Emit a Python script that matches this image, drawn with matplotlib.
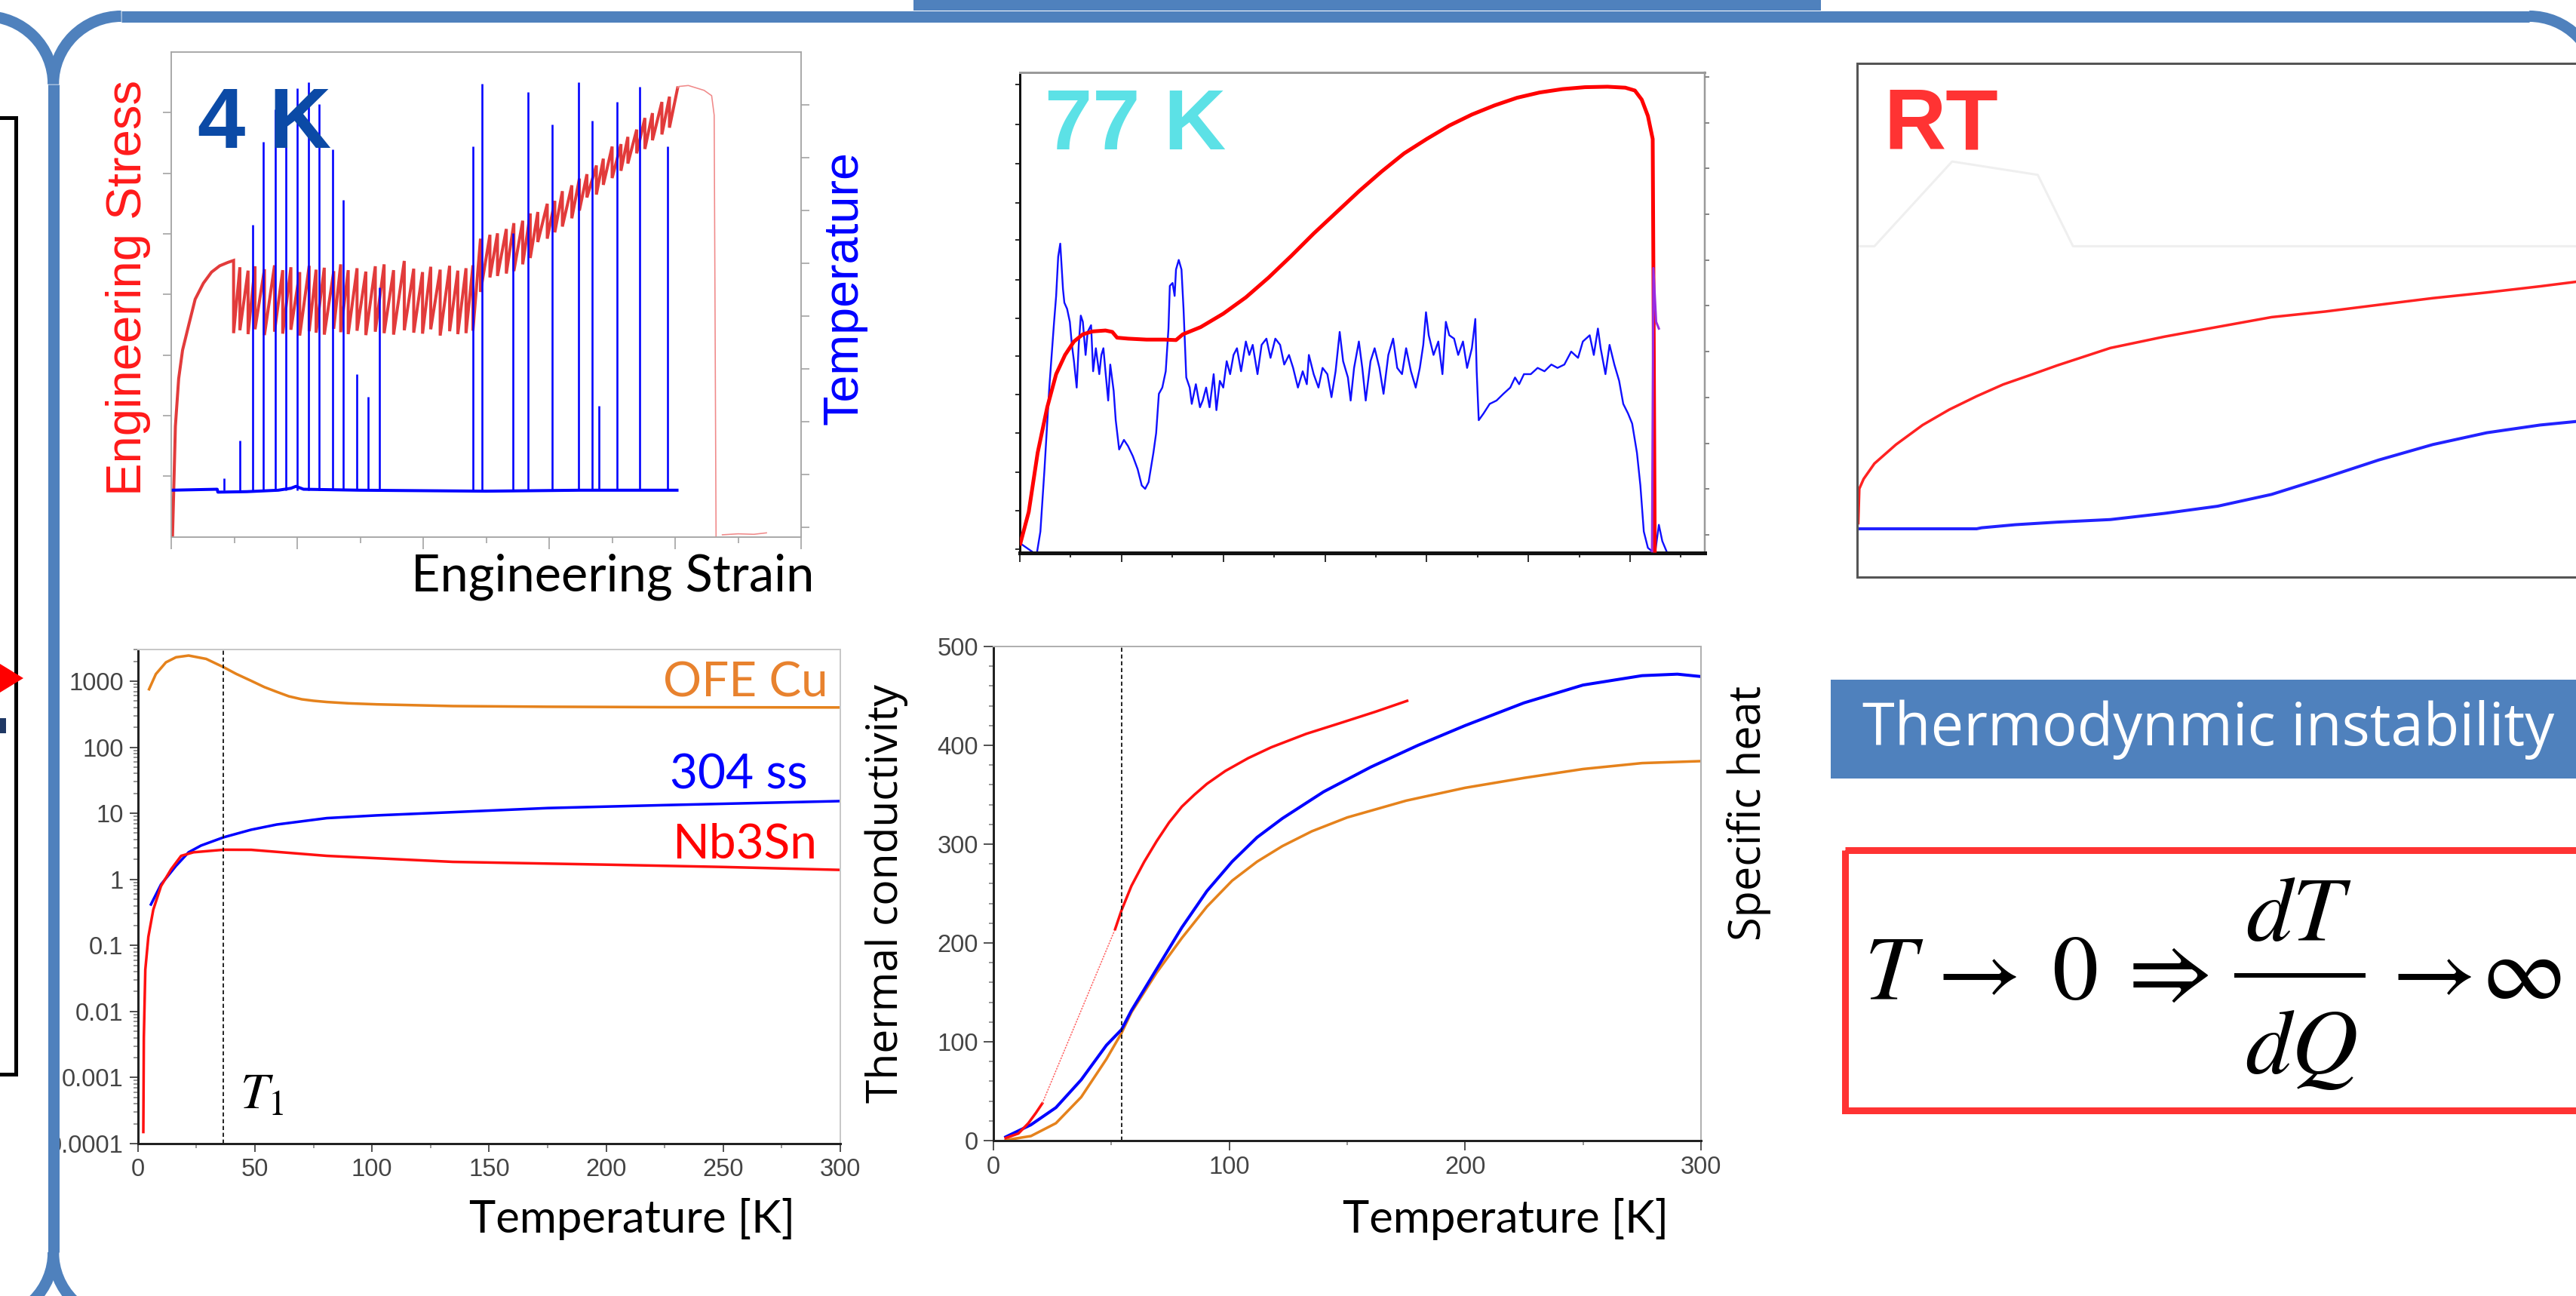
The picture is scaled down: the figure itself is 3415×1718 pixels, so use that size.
import numpy as np
import matplotlib
matplotlib.use("Agg")
import matplotlib.pyplot as plt
from matplotlib.patches import Rectangle, Polygon, Arc
from matplotlib.ticker import LogLocator, NullFormatter, MultipleLocator
from matplotlib.font_manager import FontProperties

W, H = 3416, 1718
PT = 0.72  # points per pixel at dpi=100

# ======================= DATA =======================
# ---- 4 K tensile test (strain / stress / temperature in % of axis range)
stress_init_strain = [0.2, 0.4, 0.66, 1.18, 1.8, 2.8, 3.8, 5.1, 6.4, 7.7, 9.0, 9.9]
stress_init = [0.0, 9.7, 22.8, 32.6, 38.5, 43.8, 49.0, 52.3, 54.6, 55.9, 56.6, 57.0]
flat_drop = [10.9, 12.2, 13.3, 14.8, 16.4, 17.7, 19.0, 20.4, 21.9, 23.0, 24.3, 25.8, 26.9, 28.1,
             29.5, 30.9, 32.4, 33.8, 35.3, 37.0, 38.5, 39.9, 41.2, 42.7, 44.2, 45.5, 46.8, 47.9]
flat_top = [55.6, 54.9, 55.8, 55.2, 56.0, 55.0, 55.6, 54.6, 55.9, 55.1, 55.5, 54.8, 56.2, 55.0,
            55.4, 54.7, 55.8, 56.2, 55.0, 56.9, 55.3, 54.6, 55.7, 55.1, 55.9, 54.9, 55.4, 56.0]
flat_bot = [42.0, 42.6, 41.8, 42.8, 41.6, 42.3, 41.9, 42.7, 41.5, 42.4, 42.1, 41.7, 42.9, 42.2,
            41.8, 42.5, 41.6, 42.3, 42.0, 41.7, 42.6, 42.1, 41.9, 42.8, 41.5, 42.4, 41.8, 42.0]
rise_drop = [49.1, 50.6, 51.8, 53.2, 54.4, 55.8, 57.0, 58.2, 59.7, 60.9, 62.1, 63.6, 64.8,
             66.0, 67.5, 68.6, 70.0, 71.4, 72.5, 73.9, 75.2, 76.4, 77.9, 79.1, 80.4]
rise_top = [61.5, 62.3, 62.6, 63.5, 64.7, 65.2, 66.7, 67.0, 68.7, 69.3, 71.3, 72.5, 73.9,
            74.8, 76.6, 78.0, 80.5, 81.0, 82.5, 84.0, 86.4, 87.4, 89.7, 90.8, 92.6]
rise_bot = [42.5, 50.5, 53.5, 53.8, 54.3, 54.8, 56.2, 57.5, 60.8, 61.5, 62.8, 64.0, 65.7,
            67.3, 70.0, 70.6, 72.6, 74.0, 75.5, 77.0, 79.1, 80.0, 81.8, 83.0, 84.4]
post_strain = [80.4, 80.6, 82.1, 84.6, 85.8, 86.2, 86.5]
post_stress = [92.6, 92.9, 93.1, 92.1, 91.0, 87.0, 0.0]
tail_strain = [87.5, 90.0, 92.5, 94.5]
tail_stress = [0.4, 0.6, 0.5, 0.8]
temp_base_strain = [0, 7.3, 7.4, 12, 17, 19, 19.8, 21, 30, 50, 65, 80.3]
temp_base = [9.6, 9.8, 9.2, 9.3, 9.6, 10.0, 10.4, 9.8, 9.6, 9.4, 9.6, 9.6]
spike_strain = [8.36, 10.85, 12.96, 14.67, 16.5, 18.2, 20.05, 21.76, 23.47, 25.63,
                27.28, 29.5, 31.22, 33.0, 47.9, 49.34, 54.2, 56.7, 60.45, 64.7,
                66.8, 67.9, 70.8, 74.37, 78.8]
spike_temp = [12.0, 19.8, 64.4, 81.5, 88.2, 89.4, 92.5, 93.8, 89.3, 79.9,
              69.5, 33.6, 28.9, 51.5, 80.6, 93.4, 62.6, 91.7, 85.1, 93.7,
              85.9, 27.0, 89.8, 92.9, 80.6]

# ---- 77 K test (% of axis range)
red77_x = [0, 1.3, 2.6, 4.0, 5.3, 6.6, 7.9, 9.2, 10.6, 12.5,
           13.5, 14.2, 15.8, 18.5, 21.1, 22.8, 23.8, 26.4, 29.7, 33.0,
           36.3, 39.6, 42.9, 46.2, 49.5, 52.8, 56.1, 59.4, 62.7, 66.0,
           69.3, 72.6, 75.9, 79.2, 82.5, 85.8, 88.4, 89.8, 90.8, 91.7,
           92.4, 92.5, 92.7]
red77_y = [1.5, 8.5, 20.8, 30.3, 37.2, 41.2, 44.0, 45.5, 46.1, 46.3,
           46.0, 44.8, 44.6, 44.4, 44.4, 44.3, 45.5, 47.0, 49.8, 53.2,
           57.3, 61.8, 66.5, 70.9, 75.3, 79.4, 83.2, 86.2, 89.0, 91.3,
           93.2, 94.8, 95.9, 96.6, 97.0, 97.1, 96.9, 96.3, 94.4, 91.0,
           86.2, 59.6, 0]
blue77_x = [0, 1.0, 2.0, 2.5, 3.0, 3.6, 4.3, 5.0, 5.3, 5.6,
            5.9, 6.3, 6.5, 6.9, 7.3, 7.6, 7.9, 8.3, 8.6, 8.9,
            9.2, 9.6, 9.9, 10.4, 10.7, 11.1, 11.6, 11.9, 12.2, 12.5,
            12.9, 13.2, 13.7, 14.0, 14.5, 15.2, 15.8, 16.5, 17.2, 17.8,
            18.3, 18.8, 19.5, 19.9, 20.3, 20.8, 21.3, 21.7, 21.9, 22.3,
            22.6, 22.8, 23.2, 23.6, 23.9, 24.3, 24.8, 25.1, 25.7, 26.3,
            26.7, 27.2, 27.7, 28.3, 28.7, 29.2, 29.7, 30.2, 30.7, 31.2,
            31.7, 32.3, 33.0, 33.5, 34.0, 34.7, 35.3, 36.0, 36.6, 37.3,
            38.0, 38.6, 39.3, 39.9, 40.6, 41.3, 41.9, 42.2, 42.9, 43.6,
            44.2, 44.9, 45.5, 46.1, 46.7, 47.2, 47.9, 48.3, 48.8, 49.5,
            50.0, 50.5, 51.2, 51.8, 52.5, 53.1, 53.8, 54.5, 55.1, 55.8,
            56.4, 57.1, 57.8, 58.4, 58.9, 59.3, 59.7, 60.4, 61.1, 61.7,
            62.2, 62.7, 63.4, 64.0, 64.7, 65.3, 66.0, 66.5, 66.7, 67.0,
            67.7, 68.6, 69.6, 70.6, 71.6, 72.3, 72.9, 73.6, 74.6, 75.6,
            76.6, 77.6, 78.5, 79.5, 80.5, 81.5, 82.2, 83.2, 83.8, 84.4,
            84.8, 85.5, 86.1, 86.8, 87.5, 88.1, 88.8, 89.4, 90.1, 90.6,
            91.1, 91.7, 92.3]
blue77_y = [2.0, 1.0, 0.0, 0.0, 4.4, 17.4, 34.4, 48.1, 53.5, 61.7,
            64.4, 54.9, 52.1, 50.8, 48.1, 43.3, 39.9, 34.4, 43.3, 49.4,
            48.1, 41.2, 46.0, 47.4, 37.8, 42.6, 37.2, 41.2, 42.6, 37.8,
            31.7, 39.2, 33.7, 27.6, 21.5, 23.5, 22.2, 20.1, 17.4, 14.0,
            13.3, 14.7, 20.8, 24.9, 33.1, 34.4, 37.8, 46.7, 55.6, 56.2,
            53.5, 59.0, 61.0, 59.0, 50.8, 36.5, 34.4, 31.0, 35.1, 30.3,
            31.7, 34.4, 30.3, 37.2, 29.7, 35.8, 34.4, 39.9, 37.2, 41.2,
            42.6, 37.8, 44.0, 41.2, 43.3, 37.2, 43.3, 44.6, 40.6, 44.6,
            43.3, 39.2, 41.2, 38.5, 34.4, 37.8, 35.1, 41.2, 37.2, 34.4,
            38.5, 37.2, 32.4, 37.8, 46.0, 39.9, 36.5, 31.7, 38.5, 44.0,
            38.5, 31.7, 39.9, 42.6, 38.5, 33.1, 41.2, 44.6, 38.5, 37.2,
            42.6, 37.8, 34.4, 38.5, 43.3, 50.1, 45.3, 41.2, 44.0, 37.2,
            48.1, 45.3, 44.6, 41.2, 44.0, 38.5, 42.6, 48.7, 37.8, 27.6,
            29.0, 31.0, 31.7, 33.1, 34.4, 36.5, 35.1, 37.2, 37.2, 38.5,
            37.8, 39.2, 38.5, 39.2, 41.9, 40.6, 44.0, 45.3, 41.2, 46.7,
            42.6, 37.2, 43.3, 39.2, 35.8, 31.0, 29.0, 26.9, 20.8, 14.0,
            4.4, 1.0, 0.3]
purple77_x = [92.3, 92.5, 92.9, 93.3]
purple77_y = [0.3, 59.3, 48.1, 46.7]
bluetail77_x = [92.8, 93.3, 93.8, 94.5]
bluetail77_y = [0.5, 5.8, 2.4, 0.0]

# ---- room temperature test (% of axis range)
rt_red_x = [0.15, 0.3, 0.9, 2.4, 5.4, 9.1, 12.8, 16.6, 20.3, 24.0, 27.8, 35.2, 42.7,
            50.1, 57.6, 65.1, 72.5, 80.0, 87.5, 94.9, 100]
rt_red_y = [10.5, 17.2, 19.1, 22.1, 25.8, 29.6, 32.6, 35.2, 37.5, 39.3, 41.2, 44.6, 46.8,
            48.7, 50.6, 51.7, 53.0, 54.3, 55.4, 56.6, 57.5]
rt_blue_x = [0.15, 16.6, 17.3, 22.0, 27.8, 35.2, 42.7, 50.1, 57.6, 65.1, 72.5, 80.0, 87.5,
             94.9, 100]
rt_blue_y = [9.4, 9.4, 9.6, 10.2, 10.7, 11.2, 12.4, 13.8, 16.1, 19.4, 22.8, 25.8, 28.1,
             29.6, 30.3]
rt_faint_x = [0.15, 2.4, 13.2, 25.1, 30.0, 100]
rt_faint_y = [64.4, 64.4, 80.9, 78.3, 64.4, 64.4]

# ---- thermal conductivity (log plot) vs temperature [K]
cu_T = [4.8, 7.7, 12.0, 16.3, 21.7, 29.2, 36.7, 42.0, 48.4, 54.0, 59.3, 64.5, 70.0, 75.0,
        80.7, 90.0, 102, 134.5, 175, 225, 300]
cu_k = [755, 1280, 1928, 2301, 2443, 2173, 1623, 1290, 1013, 815, 690, 590, 532, 505,
        484, 462, 446, 420, 410, 404, 400]
ss_T = [5.6, 9.9, 16.3, 21.7, 27, 36.7, 48.4, 59.3, 80.7, 102, 134.5, 175, 225, 300]
ss_k = [0.417, 0.836, 1.6, 2.57, 3.25, 4.34, 5.64, 6.76, 8.45, 9.3, 10.4, 12.0, 13.3, 15.3]
nb_T = [2.35, 2.57, 3.2, 4.5, 6.6, 9.9, 14.2, 18.5, 23.8, 36.7, 48.4, 80.7, 134.5, 200, 250, 300]
nb_k = [1.5e-4, 0.004, 0.043, 0.135, 0.347, 0.79, 1.42, 2.27, 2.57, 2.81, 2.8, 2.27, 1.84,
        1.67, 1.54, 1.39]
T1_line = 36.5
log_ticks = [1e-4, 1e-3, 1e-2, 1e-1, 1, 10, 100, 1000]
log_ticklabels = ["0.0001", "0.001", "0.01", "0.1", "1", "10", "100", "1000"]
temp_ticks_a = [0, 50, 100, 150, 200, 250, 300]
material_labels = ["OFE Cu", "304 ss", "Nb3Sn"]

# ---- specific heat (linear plot) vs temperature [K]
nbc_T1 = [5.2, 10.6, 14.8, 18.0, 20.7]
nbc_v1 = [2.6, 7.2, 17.6, 28.0, 37.6]
nbc_Tdot = [20.7, 51.6]
nbc_vdot = [37.6, 214]
nbc_T2 = [51.6, 54.3, 58.5, 63.9, 69.2, 74.5, 79.9, 85.2, 90.5, 98.3, 108.0, 117.8, 132.6,
          147.3, 162.0, 175.4]
nbc_v2 = [214, 233, 257.7, 282, 303, 322, 338, 350, 361, 374, 387, 398, 411.6,
          422.7, 434, 445]
ssc_T = [5.2, 15.9, 26.5, 37.2, 47.9, 54.3, 58.5, 69.2, 79.9, 90.5, 101.2, 111.8, 122.5,
         140, 160, 180, 200, 225, 250, 275, 290, 300]
ssc_v = [3.7, 16, 33.4, 61.5, 96.5, 112.3, 131.6, 173.7, 215.7, 252.5, 282.3, 306.9, 326,
         353, 378, 400, 420, 443, 461, 470.5, 472, 469.6]
cuc_T = [5.2, 15.9, 26.5, 37.2, 47.9, 54.3, 58.5, 69.2, 79.9, 90.5, 101.2, 111.8, 122.5,
         135, 150, 175, 200, 225, 250, 275, 300]
cuc_v = [0.5, 4.6, 17.6, 44, 82.5, 108.8, 129.8, 170, 205, 236.7, 263, 282.3, 298,
         313, 327, 344, 357, 367, 376, 382, 384]
T2_line = 54.3
cp_yticks = [0, 100, 200, 300, 400, 500]
cp_xticks = [0, 100, 200, 300]

# ======================= FIGURE =======================
plt.rcParams["font.family"] = ["Liberation Sans", "DejaVu Sans"]
fig = plt.figure(figsize=(W / 100, H / 100), dpi=100)
fig.patch.set_facecolor("white")


def add_ax(x0, y0, x1, y1, **kw):
    return fig.add_axes([x0 / W, 1 - y1 / H, (x1 - x0) / W, (y1 - y0) / H], **kw)


def style_ticklabels(ax):
    for lab in ax.get_xticklabels() + ax.get_yticklabels():
        lab.set_fontproperties(FontProperties(family="Liberation Sans", size=23.5))
        lab.set_color("#444444")


# ---------------- 4 K panel ----------------
ax = add_ax(227, 69, 1062, 711.5)
ax.set_xlim(0, 100)
ax.set_ylim(0, 100)
for s in ax.spines.values():
    s.set_color("#a6a6a6")
    s.set_linewidth(1.5 * PT)
ax.set_xticks([0, 20, 40, 60, 80, 100])
ax.set_xticks([10, 30, 50, 70, 90], minor=True)
ax.set_yticks([12.5, 25, 37.5, 50, 62.5, 75, 87.5])
ax.tick_params(axis="x", which="major", length=16 * PT, width=1.5 * PT, color="#999999",
               labelbottom=False)
ax.tick_params(axis="x", which="minor", length=8 * PT, width=1.5 * PT, color="#999999")
ax.tick_params(axis="y", length=11 * PT, width=1.5 * PT, color="#999999", labelleft=False)
sx = list(stress_init_strain)
sy = list(stress_init)
prev = stress_init_strain[-1]
for d, t, b in zip(flat_drop + rise_drop, flat_top + rise_top, flat_bot + rise_bot):
    sx += [prev, d]
    sy += [b, t]
    prev = d
ax.plot(sx, sy, color="#e23b3b", lw=4 * PT, solid_joinstyle="miter")
ax.plot(post_strain, post_stress, color="#f08a8a", lw=1.6 * PT)
ax.plot(tail_strain, tail_stress, color="#f08a8a", lw=1.6 * PT)
ax2 = ax.twinx()
ax2.set_ylim(0, 100)
for s in ax2.spines.values():
    s.set_color("#a6a6a6")
    s.set_linewidth(1.5 * PT)
ax2.set_yticks([1.9, 12.8, 23.7, 34.6, 45.5, 56.4, 67.3, 78.2, 89.1])
ax2.tick_params(axis="y", length=11 * PT, width=1.5 * PT, color="#999999", labelright=False)
ax2.plot(temp_base_strain, temp_base, color="#0000ff", lw=4 * PT)
ax2.vlines(spike_strain, 9.6, spike_temp, color="#0000ff", lw=2.6 * PT)

# ---------------- 77 K panel ----------------
ax = add_ax(1352, 96.5, 2260, 732.6)
ax.set_xlim(0, 100)
ax.set_ylim(0, 100)
ax.spines["left"].set_color("#111111")
ax.spines["left"].set_linewidth(3 * PT)
ax.spines["bottom"].set_color("#111111")
ax.spines["bottom"].set_linewidth(5 * PT)
ax.spines["top"].set_color("#9a9a9a")
ax.spines["top"].set_linewidth(3 * PT)
ax.spines["right"].set_color("#9a9a9a")
ax.spines["right"].set_linewidth(2.5 * PT)
ax.set_yticks([0.7, 8.8, 16.8, 24.9, 32.9, 40.9, 48.9, 56.9, 65.1, 72.9, 81.1, 89.3, 97.5])
ax.set_xticks([0, 14.85, 29.7, 44.55, 59.4, 74.25, 89.1])
ax.set_xticks([7.43, 22.3, 37.1, 52.0, 66.8, 81.7, 96.5], minor=True)
ax.tick_params(axis="y", length=6 * PT, width=2 * PT, color="#333333", labelleft=False)
ax.tick_params(axis="x", which="major", length=12 * PT, width=2 * PT, color="#333333",
               labelbottom=False)
ax.tick_params(axis="x", which="minor", length=6 * PT, width=2 * PT, color="#333333")
axr = ax.twinx()
axr.set_ylim(0, 100)
for s in axr.spines.values():
    s.set_visible(False)
axr.set_yticks([3.7, 13.3, 22.8, 32.4, 41.9, 51.5, 61.0, 70.6, 80.1, 89.6, 99.2])
axr.tick_params(axis="y", length=6 * PT, width=2 * PT, color="#888888", labelright=False)
ax.plot(blue77_x, blue77_y, color="#1010ff", lw=2.4 * PT, zorder=2)
ax.plot(bluetail77_x, bluetail77_y, color="#1010ff", lw=2.4 * PT, zorder=2)
ax.plot(red77_x, red77_y, color="#ff0000", lw=5 * PT, zorder=3, solid_capstyle="butt")
ax.plot(purple77_x, purple77_y, color="#9a2be0", lw=3 * PT, zorder=4)

# ---------------- RT panel ----------------
ax = add_ax(2462, 84, 3416, 765)
ax.set_xlim(0, 100)
ax.set_ylim(0, 100)
for k, s in ax.spines.items():
    s.set_color("#555555")
    s.set_linewidth(3 * PT)
ax.spines["right"].set_visible(False)
ax.set_xticks([])
ax.set_yticks([])
ax.plot(rt_faint_x, rt_faint_y, color="#efefef", lw=3 * PT)
ax.plot(rt_red_x, rt_red_y, color="#ff2222", lw=3.5 * PT)
ax.plot(rt_blue_x, rt_blue_y, color="#2222ff", lw=4 * PT)

# ---------------- thermal conductivity (log) ----------------
ax = add_ax(182.7, 861, 1114, 1516)
ax.set_yscale("log")
ax.set_xlim(0, 300)
ax.set_ylim(1e-4, 3015)
ax.spines["left"].set_color("#222222")
ax.spines["left"].set_linewidth(3 * PT)
ax.spines["bottom"].set_color("#222222")
ax.spines["bottom"].set_linewidth(3 * PT)
ax.spines["top"].set_color("#c8c8c8")
ax.spines["top"].set_linewidth(2 * PT)
ax.spines["right"].set_color("#c8c8c8")
ax.spines["right"].set_linewidth(2 * PT)
ax.set_yticks(log_ticks)
ax.set_yticklabels(log_ticklabels)
ax.yaxis.set_minor_locator(LogLocator(base=10, subs=np.arange(2, 10), numticks=30))
ax.yaxis.set_minor_formatter(NullFormatter())
ax.set_xticks(temp_ticks_a)
ax.set_xticklabels([str(t) for t in temp_ticks_a])
ax.xaxis.set_minor_locator(MultipleLocator(25))
ax.tick_params(axis="both", which="major", length=11 * PT, width=2 * PT, color="#555555",
               pad=8 * PT)
ax.tick_params(axis="both", which="minor", length=6 * PT, width=1.5 * PT, color="#777777")
style_ticklabels(ax)
ax.plot(cu_T, cu_k, color="#e5821c", lw=3.5 * PT)
ax.plot(ss_T, ss_k, color="#0000ff", lw=3.5 * PT)
ax.plot(nb_T, nb_k, color="#ff1010", lw=3.5 * PT)
ax.axvline(T1_line, color="#111111", lw=1.8 * PT, ls=(0, (3, 2)))

# ---------------- specific heat (linear) ----------------
ax = add_ax(1317, 857, 2255, 1512)
ax.set_xlim(0, 300)
ax.set_ylim(0, 500)
ax.spines["left"].set_color("#222222")
ax.spines["left"].set_linewidth(3 * PT)
ax.spines["bottom"].set_color("#222222")
ax.spines["bottom"].set_linewidth(3 * PT)
ax.spines["top"].set_color("#b0b0b0")
ax.spines["top"].set_linewidth(2 * PT)
ax.spines["right"].set_color("#b0b0b0")
ax.spines["right"].set_linewidth(2 * PT)
ax.set_yticks(cp_yticks)
ax.set_yticklabels([str(v) for v in cp_yticks])
ax.yaxis.set_minor_locator(MultipleLocator(20))
ax.set_xticks(cp_xticks)
ax.set_xticklabels([str(v) for v in cp_xticks])
ax.xaxis.set_minor_locator(MultipleLocator(50))
ax.tick_params(axis="both", which="major", length=13 * PT, width=2 * PT, color="#555555",
               pad=7 * PT)
ax.tick_params(axis="both", which="minor", length=6 * PT, width=1.5 * PT, color="#777777")
style_ticklabels(ax)
ax.plot(cuc_T, cuc_v, color="#e5821c", lw=3.5 * PT)
ax.plot(ssc_T, ssc_v, color="#0000ff", lw=4 * PT)
ax.plot(nbc_T1, nbc_v1, color="#ff1010", lw=3.5 * PT)
ax.plot(nbc_Tdot, nbc_vdot, color="#ff6060", lw=1.5 * PT, ls=(0, (1.5, 1)))
ax.plot(nbc_T2, nbc_v2, color="#ff1010", lw=3.5 * PT)
ax.axvline(T2_line, color="#111111", lw=1.8 * PT, ls=(0, (3, 2)))

# ---------------- overlay: frames, texts ----------------
ov = fig.add_axes([0, 0, 1, 1], zorder=10)
ov.set_xlim(0, W)
ov.set_ylim(H, 0)
ov.axis("off")
ov.patch.set_alpha(0)

FRAME = "#4f81bd"
FLW = 15 * PT
R = 90
# main frame (top-left, left side, bottom-left, top-right)
ov.plot([160.7, 3353], [21.5, 21.5], color=FRAME, lw=FLW, solid_capstyle="butt")
ov.plot([70.7, 70.7], [111.5, 1660], color=FRAME, lw=FLW, solid_capstyle="butt")
ov.add_patch(Arc((160.7, 111.5), 2 * R, 2 * R, theta1=180, theta2=270, color=FRAME, lw=FLW))
ov.add_patch(Arc((160.7, 1660), 2 * R, 2 * R, theta1=90, theta2=180, color=FRAME, lw=FLW))
ov.add_patch(Arc((3353, 111.5), 2 * R, 2 * R, theta1=270, theta2=360, color=FRAME, lw=FLW))
# left neighbouring frame (its right side shares the vertical line)
ov.add_patch(Arc((-19.3, 111.5), 2 * R, 2 * R, theta1=270, theta2=360, color=FRAME, lw=FLW))
ov.add_patch(Arc((-19.3, 1660), 2 * R, 2 * R, theta1=0, theta2=90, color=FRAME, lw=FLW))
# header tab
ov.add_patch(Rectangle((1211, -20), 2414 - 1211, 33.5, fc=FRAME, ec="none"))
# pieces of the neighbouring slide content
ov.add_patch(Rectangle((-100, 155.5), 120.7, 1423.5 - 155.5, fill=False, ec="black", lw=5 * PT))
ov.add_patch(Polygon([(0, 880), (31, 899), (0, 918)], closed=True, fc="#ff0000", ec="none"))
ov.add_patch(Rectangle((-5, 952), 13, 20, fc="#1f3864", ec="none"))

# panel titles
ov.text(262, 196, "4 K", fontsize=82, fontweight="bold", color="#0b4aa6",
        ha="left", va="baseline", family="Liberation Sans")
ov.text(1385, 198, "77 K", fontsize=82, fontweight="bold", color="#5ce1e6",
        ha="left", va="baseline", family="Liberation Sans")
ov.text(2497, 198, "RT", fontsize=82, fontweight="bold", color="#ff3333",
        ha="left", va="baseline", family="Liberation Sans")

# axis labels of stress panel
ov.text(187.5, 381.5, "Engineering Stress", rotation=90, rotation_mode="anchor",
        ha="center", va="baseline", fontsize=47, color="#ff1a1a", family="Liberation Sans")
ov.text(1136.5, 381.5, "Temperature", rotation=90, rotation_mode="anchor",
        ha="center", va="baseline", fontsize=46.5, color="#0000ff", family="Liberation Sans")
ov.text(812, 783, "Engineering Strain", ha="center", va="baseline", fontsize=48,
        color="black", family="Lato")

# conductivity / heat labels
ov.text(838, 1634, "Temperature [K]", ha="center", va="baseline", fontsize=43,
        color="black", family="Lato")
ov.text(1996, 1634, "Temperature [K]", ha="center", va="baseline", fontsize=43,
        color="black", family="Lato")
ov.text(1098, 923, material_labels[0], ha="right", va="baseline", fontsize=46,
        color="#e8822e", family="Lato")
ov.text(1071, 1046, material_labels[1], ha="right", va="baseline", fontsize=46,
        color="#0000ff", family="Lato")
ov.text(1083, 1137, material_labels[2], ha="right", va="baseline", fontsize=46,
        color="#ff0000", family="Lato")
ov.text(318, 1469, r"$T_1$", ha="left", va="baseline", fontsize=49, color="black",
        math_fontfamily="stix")
ov.text(1190, 1185, "Thermal conductivity", rotation=90, rotation_mode="anchor",
        ha="center", va="baseline", fontsize=41, color="black", family="Open Sans")
ov.text(2334, 1078, "Specific heat", rotation=90, rotation_mode="anchor",
        ha="center", va="baseline", fontsize=41.5, color="black", family="Open Sans")

# right side boxes
ov.add_patch(Rectangle((2427, 901), 1200, 131, fc=FRAME, ec="none"))
ov.text(2469, 988, "Thermodynmic instability", ha="left", va="baseline", fontsize=56,
        color="white", family="Open Sans")
ov.add_patch(Rectangle((2446, 1127), 1200, 345, fill=False, ec="#ff3333", lw=9 * PT))
FS = 88
MATH = dict(fontsize=FS, color="black", math_fontfamily="stix", va="baseline")
ov.text(2471, 1324, r"$T$", ha="left", **MATH)
ov.text(2612, 1324, r"$\rightarrow$", ha="center", **MATH)
ov.text(2750, 1324, r"$0$", ha="center", **MATH)
ov.text(2866, 1324, r"$\Rightarrow$", ha="center", **MATH)
ov.text(3047, 1247, r"$dT$", ha="center", **MATH)
ov.plot([2962, 3136], [1293, 1293], color="black", lw=6 * PT, solid_capstyle="butt")
ov.text(3050, 1423, r"$dQ$", ha="center", **MATH)
ov.text(3215, 1324, r"$\rightarrow$", ha="center", **MATH)
ov.text(3342, 1324, r"$\infty$", ha="center", **MATH)

fig.savefig("out.png", dpi=100)
